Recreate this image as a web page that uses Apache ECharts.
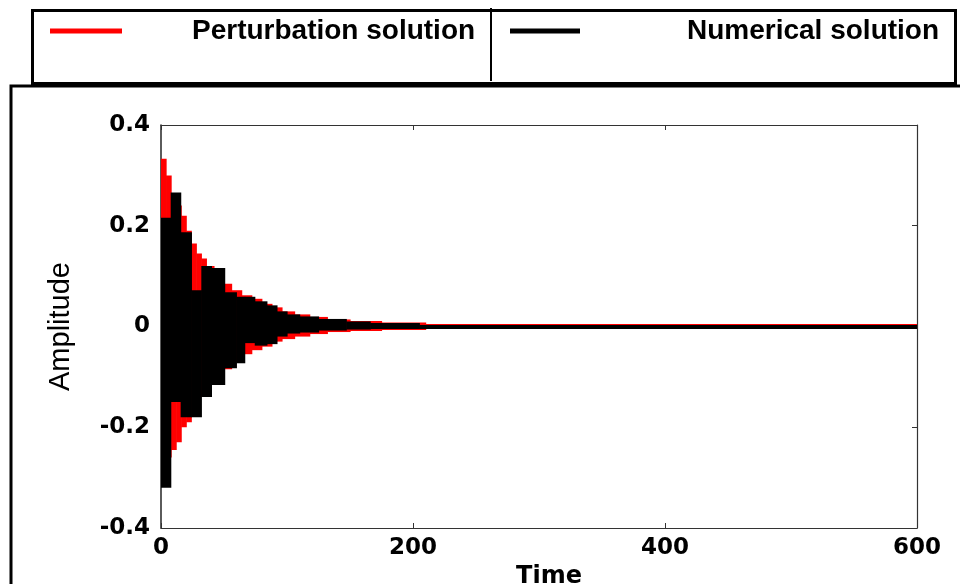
<!DOCTYPE html>
<html>
<head>
<meta charset="utf-8">
<script src="https://cdn.jsdelivr.net/npm/echarts@6/dist/echarts.min.js"></script>
<style>
  html, body { margin: 0; padding: 0; background: #fff; }
  #chart { width: 960px; height: 584px; }
</style>
</head>
<body>
<div id="chart"></div>
<script>
// envelope of the oscillation, read off the picture as blocks:
// block i runs from edges[i] to edges[i+1], between lower[i] and upper[i]
const pertEdges = [0, 4, 8, 12, 16, 20, 24, 28, 32, 36, 42, 48, 56, 64, 72, 80, 88, 96, 106, 118, 132, 150, 175, 210, 600];
const pertUpper = [0.333, 0.3, 0.26, 0.24, 0.22, 0.19, 0.165, 0.145, 0.135, 0.12, 0.097, 0.085, 0.072, 0.062, 0.055, 0.045, 0.038, 0.03, 0.024, 0.019, 0.014, 0.011, 0.008, 0.005];
const pertLower = [-0.27, -0.26, -0.245, -0.23, -0.2, -0.19, -0.16, -0.14, -0.125, -0.11, -0.1, -0.085, -0.07, -0.055, -0.047, -0.04, -0.03, -0.025, -0.02, -0.015, -0.011, -0.009, -0.007, -0.003];

const numEdges = [0, 7.7, 15.6, 24.1, 32, 40, 50.5, 59.8, 66.4, 74.4, 84, 92, 100, 110, 125, 147, 166, 205, 600];
const numUpper = [0.216, 0.266, 0.187, 0.072, 0.12, 0.116, 0.068, 0.059, 0.059, 0.05, 0.042, 0.03, 0.024, 0.02, 0.015, 0.01, 0.007, 0.003];
const numLower = [-0.32, -0.15, -0.18, -0.18, -0.14, -0.116, -0.083, -0.073, -0.033, -0.038, -0.035, -0.02, -0.014, -0.012, -0.008, -0.006, -0.005, -0.005];

const seriesNames = ['Perturbation solution', 'Numerical solution'];
const xTicks = [0, 600, 200];
const yTicks = [-0.4, 0.4, 0.2];

function blocks(edges, upper, lower) {
  const out = [];
  for (let i = 0; i < upper.length; i++) {
    out.push([edges[i], edges[i + 1], upper[i], lower[i]]);
  }
  return out;
}

function renderBlock(params, api) {
  const a = api.coord([api.value(0), api.value(2)]);
  const b = api.coord([api.value(1), api.value(3)]);
  return {
    type: 'rect',
    shape: { x: a[0], y: a[1], width: b[0] - a[0] + 0.6, height: b[1] - a[1] },
    style: api.style()
  };
}

const chart = echarts.init(document.getElementById('chart'));

const tickStyle = { show: true, inside: true, length: 5, lineStyle: { color: '#333', width: 1 } };
const lineStyle = { show: true, onZero: false, lineStyle: { color: '#333', width: 1.2 } };
const legendText = { fontFamily: 'Liberation Sans', fontWeight: 'bold', fontSize: 28, color: '#000' };

const option = {
  animation: false,
  backgroundColor: '#fff',
  grid: { left: 161, right: 43, top: 125, bottom: 56, outerBoundsMode: 'none', containLabel: false },
  legend: [
    {
      data: [seriesNames[0]], left: 50, top: 17, padding: 0,
      icon: 'rect', itemWidth: 72, itemHeight: 5, selectedMode: false,
      textStyle: Object.assign({ padding: [0, 0, 0, 65] }, legendText)
    },
    {
      data: [seriesNames[1]], left: 510, top: 17, padding: 0,
      icon: 'rect', itemWidth: 70, itemHeight: 5, selectedMode: false,
      textStyle: Object.assign({ padding: [0, 0, 0, 102] }, legendText)
    }
  ],
  graphic: [
    { type: 'rect', left: 30, top: 8, shape: { width: 923, height: 73 }, style: { fill: 'none', stroke: '#000', lineWidth: 3 } },
    { type: 'line', shape: { x1: 491, y1: 8, x2: 491, y2: 81 }, style: { stroke: '#000', lineWidth: 2 } },
    { type: 'polyline', shape: { points: [[11, 584], [11, 86], [960, 86]] }, style: { fill: 'none', stroke: '#000', lineWidth: 3 } }
  ],
  xAxis: [
    {
      type: 'value', min: xTicks[0], max: xTicks[1], interval: xTicks[2],
      position: 'bottom',
      name: 'Time', nameLocation: 'middle', nameGap: 33,
      nameTextStyle: { fontFamily: 'DejaVu Sans', fontWeight: 'bold', fontSize: 24, color: '#000', padding: [0, 0, 0, 20] },
      axisLine: lineStyle, axisTick: tickStyle, splitLine: { show: false },
      axisLabel: { margin: 9, fontFamily: 'DejaVu Sans', fontWeight: 'bold', fontSize: 23, color: '#000' }
    },
    {
      type: 'value', min: xTicks[0], max: xTicks[1], interval: xTicks[2],
      position: 'top',
      axisLine: lineStyle, axisTick: tickStyle, splitLine: { show: false },
      axisLabel: { show: false }
    }
  ],
  yAxis: [
    {
      type: 'value', min: yTicks[0], max: yTicks[1], interval: yTicks[2],
      position: 'left',
      name: 'Amplitude', nameLocation: 'middle', nameGap: 86,
      nameTextStyle: { fontFamily: 'Liberation Sans', fontSize: 29, color: '#000' },
      axisLine: { show: true, onZero: false, lineStyle: { color: '#333', width: 1.6 } },
      axisTick: tickStyle, splitLine: { show: false },
      axisLabel: { margin: 11, fontFamily: 'DejaVu Sans', fontWeight: 'bold', fontSize: 23, color: '#000' }
    },
    {
      type: 'value', min: yTicks[0], max: yTicks[1], interval: yTicks[2],
      position: 'right',
      axisLine: lineStyle, axisTick: tickStyle, splitLine: { show: false },
      axisLabel: { show: false }
    }
  ],
  series: [
    {
      name: seriesNames[0], type: 'custom', renderItem: renderBlock, clip: true,
      itemStyle: { color: '#ff0000' },
      encode: { x: [0, 1], y: [2, 3] },
      data: blocks(pertEdges, pertUpper, pertLower)
    },
    {
      name: seriesNames[1], type: 'custom', renderItem: renderBlock, clip: true,
      itemStyle: { color: '#000000' },
      encode: { x: [0, 1], y: [2, 3] },
      data: blocks(numEdges, numUpper, numLower)
    }
  ]
};

chart.setOption(option);
</script>
</body>
</html>
